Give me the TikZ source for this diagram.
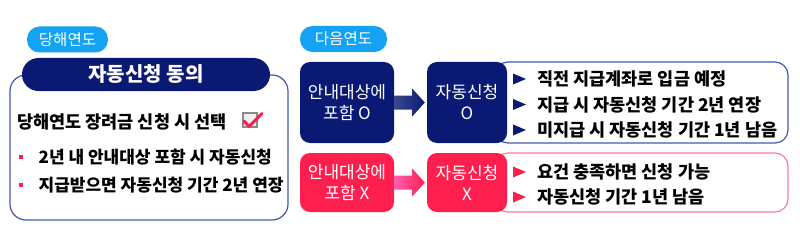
\documentclass[tikz,border=0pt]{standalone}
\usepackage{fontspec}
\setmainfont{Noto Sans CJK KR}
\usetikzlibrary{calc,positioning}
\definecolor{namsaek}{HTML}{0A1A74}
\definecolor{namyeon}{HTML}{3A4A8C}
\definecolor{bunhong}{HTML}{FF1F4F}
\definecolor{bunyeon}{HTML}{FF5FB0}
\definecolor{haneul}{HTML}{14A2F2}
\definecolor{teduri}{HTML}{4656AE}
\definecolor{teduribun}{HTML}{FF7A96}
\definecolor{hoesaek}{HTML}{8A8A8A}
\begin{document}
\begin{tikzpicture}[x=1pt,y=-1pt,
  pill/.style={fill=haneul, rounded corners=12.5pt, minimum height=26pt, inner sep=0pt, text=white, font=\fontsize{15.5}{15.5}\selectfont},
  kan/.style={draw=#1, line width=1.2pt, rounded corners=13pt, inner sep=0pt},
  sangja/.style={fill=#1, rounded corners=10pt, inner sep=0pt, text=white, align=center, font=\fontsize{17}{21}\selectfont},
  naeyong/.style={anchor=west, inner sep=0pt, font=\fontsize{17.5}{17.5}\selectfont\bfseries},
  bul/.style={fill=bunhong, minimum size=4.5pt, inner sep=0pt}]
  \useasboundingbox (0,0) rectangle (800,230);
  % 당해연도
  \node[pill, minimum width=81pt] (danghae) at (67.5,39.5) {당해연도};
  \node[kan=teduri, minimum width=278pt, minimum height=145pt, rounded corners=16pt] (jwa) at (149,147.5) {};
  \node[fill=namsaek, rounded corners=16.5pt, minimum width=248pt, minimum height=33pt, inner sep=0pt, text=white, font=\fontsize{20}{20}\selectfont\bfseries] (dongui) at (146,74.5) {자동신청 동의};
  \node[naeyong] (seontaek) at (17,122) {당해연도 장려금 신청 시 선택};
  \node[draw=hoesaek, line width=1.6pt, fill=black!6, minimum size=14pt, inner sep=0pt] (chk) at (250,120) {};
  \draw[bunhong, line width=3pt, line cap=round, line join=round] ($(chk.center)+(-6,1)$) -- ($(chk.center)+(-1,6.5)$) -- ($(chk.center)+(12,-6.5)$);
  \node[bul] (b1) at (21,157) {};
  \node[naeyong, right=15pt of b1, font=\fontsize{17}{17}\selectfont\bfseries] (t1) {2년 내 안내대상 포함 시 자동신청};
  \node[bul] (b2) at (21,185) {};
  \node[naeyong, right=15pt of b2, font=\fontsize{17}{17}\selectfont\bfseries] (t2) {지급받으면 자동신청 기간 2년 연장};
  % 다음연도
  \node[pill, minimum width=87pt] (daeum) at (343.5,39) {다음연도};
  \node[kan=teduri, minimum width=293pt, minimum height=81pt] (kanO) at (641.5,102.5) {};
  \node[kan=teduribun, minimum width=293pt, minimum height=59pt] (kanX) at (641.5,182.5) {};
  \node[sangja=namsaek, minimum width=94pt, minimum height=81pt] (anO) at (347,102.5) {안내대상에\\포함 O};
  \node[sangja=namsaek, minimum width=80pt, minimum height=81pt] (jadongO) at (467,102.5) {자동신청\\O};
  \node[sangja=bunhong, minimum width=94pt, minimum height=59pt] (anX) at (347,182.5) {안내대상에\\포함 X};
  \node[sangja=bunhong, minimum width=80pt, minimum height=59pt] (jadongX) at (467,182.5) {자동신청\\X};
  % 화살표
  \shade[left color=namyeon, right color=namsaek] let \p1=(anO.east), \p2=(jadongO.west) in
    (\x1,\y1+7pt) -- (\x1+18pt,\y1+7pt) -- (\x1+18pt,\y1+14pt) -- (\x2-2pt,\y1) -- (\x1+18pt,\y1-14pt) -- (\x1+18pt,\y1-7pt) -- (\x1,\y1-7pt) -- cycle;
  \shade[left color=bunyeon, right color=bunhong] let \p1=(anX.east), \p2=(jadongX.west) in
    (\x1,\y1+7pt) -- (\x1+18pt,\y1+7pt) -- (\x1+18pt,\y1+14pt) -- (\x2-2pt,\y1) -- (\x1+18pt,\y1-14pt) -- (\x1+18pt,\y1-7pt) -- (\x1,\y1-7pt) -- cycle;
  \foreach \t [count=\i] in {직전 지급계좌로 입금 예정, 지급 시 자동신청 기간 2년 연장, 미지급 시 자동신청 기간 1년 남음}{
    \coordinate (sO\i) at (519.5,{79+25.5*(\i-1)});
    \fill[namsaek] (sO\i) ++(-6.5,-5.5) -- ++(13,5.5) -- ++(-13,5.5) -- cycle;
    \node[naeyong] (tO\i) at ($(sO\i)+(17.5,0)$) {\t};}
  \foreach \t [count=\i] in {요건 충족하면 신청 가능, 자동신청 기간 1년 남음}{
    \coordinate (sX\i) at (519.5,{172+25*(\i-1)});
    \fill[bunhong] (sX\i) ++(-6.5,-5.5) -- ++(13,5.5) -- ++(-13,5.5) -- cycle;
    \node[naeyong] (tX\i) at ($(sX\i)+(17.5,0)$) {\t};}
\end{tikzpicture}
\end{document}
